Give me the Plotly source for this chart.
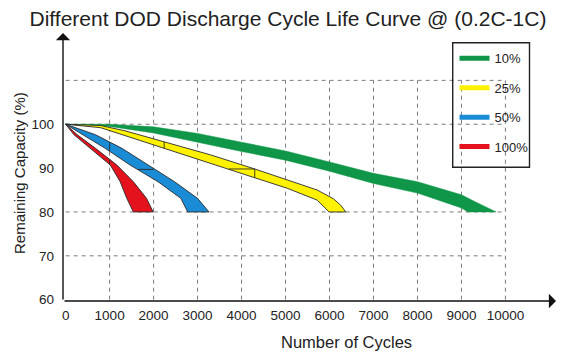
import plotly.graph_objects as go

# ---------------- data ----------------
series_names = ["10%", "25%", "50%", "100%"]
series_colors = ["#0f9648", "#fff200", "#1a8cd6", "#e3121c"]
outline_colors = [None, "#2a2a2a", "#2a2a2a", "#2a2a2a"]

# 10% DOD band
green_upper_x = [0, 500, 1000, 2000, 3000, 4000, 5000, 6000, 7000, 8000, 9000, 9300, 9790]
green_upper_y = [100, 100, 100, 99.4, 97.9, 95.9, 93.9, 91.4, 88.8, 86.9, 83.9, 82.4, 80]
green_lower_x = [0, 1000, 2000, 3000, 4000, 5000, 6000, 7000, 8000, 9000, 9150]
green_lower_y = [100, 99.5, 98.0, 95.9, 93.8, 91.8, 89.3, 86.5, 84.3, 80.9, 80]

# 25% DOD band
yellow_upper_x = [0, 800, 1350, 2250, 3300, 4300, 5040, 5720, 6090, 6250, 6370]
yellow_upper_y = [100, 99.7, 98.5, 96.0, 93.0, 89.8, 87.3, 85.0, 83.0, 81.6, 80]
yellow_lower_x = [0, 800, 1350, 2250, 3300, 4300, 5040, 5720, 5990]
yellow_lower_y = [100, 99.2, 97.4, 94.5, 91.1, 87.8, 85.4, 82.7, 80]

# 50% DOD band
blue_upper_x = [0, 680, 1280, 1875, 2475, 3000, 3260]
blue_upper_y = [100, 97.6, 94.5, 90.7, 86.9, 83.1, 80]
blue_lower_x = [0, 390, 900, 1465, 2100, 2620, 2775]
blue_lower_y = [100, 97.6, 94.5, 90.7, 86.9, 83.1, 80]

# 100% DOD band
red_upper_x = [0, 265, 680, 1165, 1540, 1840, 1990]
red_upper_y = [100, 97.6, 94.5, 90.7, 86.9, 83.1, 80]
red_lower_x = [0, 190, 566, 1015, 1240, 1390, 1540]
red_lower_y = [100, 97.6, 94.5, 90.7, 86.9, 83.1, 80]

# seam lines drawn across the bands (None separates segments)
seam_x = [2240, 2240, None, 3710, 4300, 4300, None, 1000, 1000, None, 1650, 2000, None, 1000, 1000]
seam_y = [96.0, 94.5, None, 89.8, 89.8, 87.8, None, 95.9, 93.8, None, 89.7, 89.7, None, 92.0, 90.8]

x_ticks = [0, 1000, 2000, 3000, 4000, 5000, 6000, 7000, 8000, 9000, 10000]
y_ticks = [60, 70, 80, 90, 100]
grid_x = [1000, 2000, 3000, 4000, 5000, 6000, 7000, 8000, 9000, 10000]
grid_y = [70, 80, 100, 110]

title_text = "Different DOD Discharge Cycle Life Curve @ (0.2C-1C)"
x_title = "Number of Cycles"
y_title = "Remaining Capacity (%)"

# ---------------- figure ----------------
bands = [
    (green_upper_x, green_upper_y, green_lower_x, green_lower_y),
    (yellow_upper_x, yellow_upper_y, yellow_lower_x, yellow_lower_y),
    (blue_upper_x, blue_upper_y, blue_lower_x, blue_lower_y),
    (red_upper_x, red_upper_y, red_lower_x, red_lower_y),
]

fig = go.Figure()
for (ux, uy, lx, ly), name, col, oc in zip(bands, series_names, series_colors, outline_colors):
    px = list(ux) + list(reversed(lx))
    py = list(uy) + list(reversed(ly))
    fig.add_trace(go.Scatter(
        x=px, y=py, mode="lines", fill="toself", fillcolor=col,
        line=dict(color=oc if oc else col, width=0.9 if oc else 0.5),
        showlegend=False, hoverinfo="skip", name=name,
    ))

fig.add_trace(go.Scatter(x=seam_x, y=seam_y, mode="lines",
                         line=dict(color="#2a2a2a", width=0.9),
                         showlegend=False, hoverinfo="skip"))

# legend entries
for name, col in zip(series_names, series_colors):
    fig.add_trace(go.Scatter(x=[None], y=[None], mode="lines", name=name,
                             legendgroup=name, line=dict(color=col, width=5)))

# dashed grid
shapes = []
for gx in grid_x:
    shapes.append(dict(type="line", xref="x", yref="y", x0=gx, x1=gx, y0=60, y1=110,
                       line=dict(color="#7a7a7a", width=1, dash="4px,4px"), layer="below"))
for gy in grid_y:
    shapes.append(dict(type="line", xref="x", yref="y", x0=0, x1=10000, y0=gy, y1=gy,
                       line=dict(color="#7a7a7a", width=1, dash="4px,4px"), layer="below"))

L, R, T, B = 63, 20, 33, 56
W, H = 576, 357
pw = W - L - R
ph = H - T - B


def px2x(p):
    return (p - L) / pw


def px2y(p):
    return 1 - (p - T) / ph


# legend frame
shapes.append(dict(type="rect", xref="paper", yref="paper",
                   x0=px2x(452.7), x1=px2x(529.5), y0=px2y(167.3), y1=px2y(42.7),
                   line=dict(color="#222", width=1.4), fillcolor="rgba(0,0,0,0)", layer="above"))

annotations = [
    # x axis with arrow
    dict(xref="paper", yref="paper", x=1, y=0, ax=-pw, ay=0, text="", showarrow=True,
         arrowhead=1, arrowsize=1.7, arrowwidth=1.4, arrowcolor="#111"),
    # y axis with arrow
    dict(xref="paper", yref="paper", x=0, y=1, ax=0, ay=ph, text="", showarrow=True,
         arrowhead=1, arrowsize=1.7, arrowwidth=1.4, arrowcolor="#111"),
    dict(xref="paper", yref="paper", x=px2x(346), y=px2y(342),
         text=x_title, showarrow=False, font=dict(size=16.5, color="#222"),
         xanchor="center", yanchor="middle"),
    dict(xref="paper", yref="paper", x=px2x(19), y=px2y(173),
         text=y_title, showarrow=False, textangle=-90, font=dict(size=15, color="#222"),
         xanchor="center", yanchor="middle"),
]

fig.update_layout(
    width=W, height=H,
    margin=dict(l=L, r=R, t=T, b=B),
    plot_bgcolor="white", paper_bgcolor="white",
    font=dict(family="Liberation Sans, Arial, sans-serif", color="#222"),
    title=dict(text=title_text, x=0.5, xanchor="center", y=1 - 19 / H, yanchor="middle",
               font=dict(size=21, color="#222")),
    xaxis=dict(range=[-60, 11150], tickvals=x_ticks, ticktext=[str(v) for v in x_ticks],
               showgrid=False, zeroline=False, showline=False, ticks="",
               tickfont=dict(size=13.5, color="#222"), ticklabelstandoff=4),
    yaxis=dict(range=[59.7, 120.8], tickvals=y_ticks, ticktext=[str(v) for v in y_ticks],
               showgrid=False, zeroline=False, showline=False, ticks="",
               tickfont=dict(size=13.5, color="#222"), ticklabelstandoff=8),
    legend=dict(x=px2x(454.5), y=px2y(43.4), xanchor="left", yanchor="top",
                bgcolor="rgba(0,0,0,0)", borderwidth=0,
                font=dict(size=13, color="#222"), tracegroupgap=9.5, itemwidth=30),
    shapes=shapes,
    annotations=annotations,
)

fig.write_html("out.html", config={"displayModeBar": False},
               post_script="document.body.style.margin='0px';document.body.style.padding='0px';")
